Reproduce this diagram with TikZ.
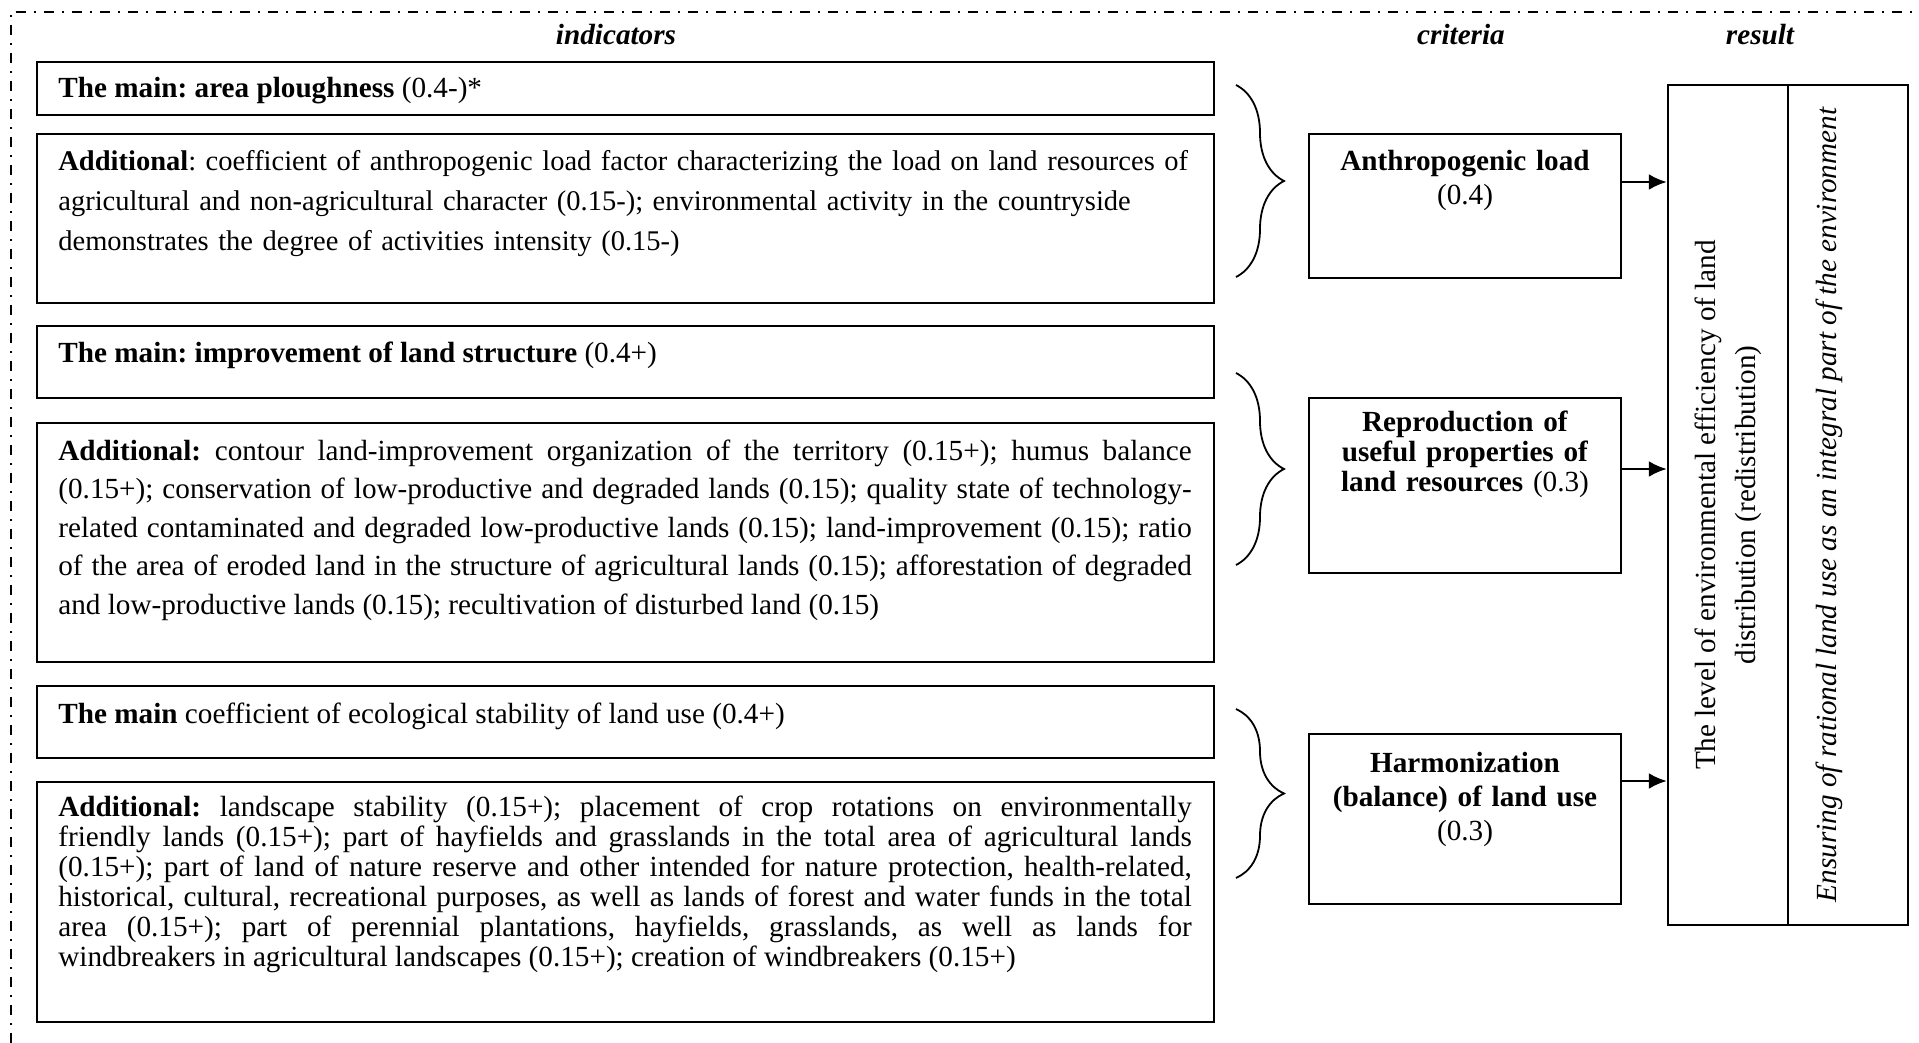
\documentclass[tikz,border=0pt]{standalone}
\usepackage{fontspec}
\setmainfont{Liberation Serif}
\frenchspacing
\usetikzlibrary{arrows.meta, positioning, calc, decorations.pathreplacing}

\begin{document}
\begin{tikzpicture}[
  x=0.5pt, y=-0.5pt,
  font=\fontsize{14.6}{17}\selectfont,
  >={Latex[length=9pt, width=8pt]},
  frame/.style={line width=0.9pt, dash pattern=on 5pt off 4pt on 1pt off 4pt},
  head/.style={font=\fontsize{14.6}{17}\selectfont\bfseries\itshape, inner sep=0pt},
  indbox/.style={draw, line width=1pt, anchor=north west, minimum width=588.5pt, inner sep=0pt},
  indtxt/.style={anchor=base west, inner sep=0pt, text width=566.7pt, align=justify},
  critbox/.style={draw, line width=1pt, anchor=north west, minimum width=156pt, inner sep=0pt},
  crittxt/.style={anchor=base, inner sep=0pt, text width=150pt, align=center},
  resbox/.style={draw, line width=1.2pt, rotate=90, minimum width=420pt, minimum height=60pt, inner sep=0pt},
  brc/.style={decorate, decoration={brace, amplitude=24pt}, line width=0.9pt},
  arr/.style={->, line width=1.3pt}
]
  \useasboundingbox (0,0) rectangle (1919,1043);
  \draw[frame] (11,1043) -- (11,12) -- (1919,12);

  \node[head] (hind) at (616,35) {indicators};
  \node[head] (hcrit) at (1461,35) {criteria};
  \node[head] (hres) at (1760,35) {result};

  % indicators
  \node[indbox, minimum height=26.5pt] (main1) at (36,61) {};
  \node[indbox, minimum height=84.5pt] (add1) at (36,133) {};
  \node[indbox, minimum height=36pt] (main2) at (36,325) {};
  \node[indbox, minimum height=119.5pt] (add2) at (36,422) {};
  \node[indbox, minimum height=36pt] (main3) at (36,685) {};
  \node[indbox, minimum height=120pt] (add3) at (36,781) {};

  \node[indtxt] (main1t) at ($(main1.north west)+(22,37)$)
    {\textbf{The main: area ploughness} (0.4-)*};
  \node[indtxt, text width=600pt, align=left, font=\fontsize{14.25}{20}\selectfont] (add1t)
    at ($(add1.north west)+(22,38)$)
    {\textbf{Additional}: coefficient of anthropogenic load factor characterizing the load on land resources of\\
     agricultural and non-agricultural character (0.15-); environmental activity in the countryside\\
     demonstrates the degree of activities intensity (0.15-)};
  \node[indtxt] (main2t) at ($(main2.north west)+(22,38)$)
    {\textbf{The main: improvement of land structure} (0.4+)};
  \node[indtxt, font=\fontsize{14.6}{19.3}\selectfont] (add2t) at ($(add2.north west)+(22,38)$)
    {\textbf{Additional:} contour land-improvement organization of the territory (0.15+); humus balance\linebreak
     (0.15+); conservation of low-productive and degraded lands (0.15); quality state of technology-\linebreak
     related contaminated and degraded low-productive lands (0.15); land-improvement (0.15); ratio\linebreak
     of the area of eroded land in the structure of agricultural lands (0.15); afforestation of degraded\linebreak
     and low-productive lands (0.15); recultivation of disturbed land (0.15)};
  \node[indtxt] (main3t) at ($(main3.north west)+(22,38)$)
    {\textbf{The main} coefficient of ecological stability of land use (0.4+)};
  \node[indtxt, font=\fontsize{14.6}{15}\selectfont] (add3t) at ($(add3.north west)+(22,35)$)
    {\textbf{Additional:} landscape stability (0.15+); placement of crop rotations on environmentally\linebreak
     friendly lands (0.15+); part of hayfields and grasslands in the total area of agricultural lands\linebreak
     (0.15+); part of land of nature reserve and other intended for nature protection, health-related,\linebreak
     historical, cultural, recreational purposes, as well as lands of forest and water funds in the total\linebreak
     area (0.15+); part of perennial plantations, hayfields, grasslands, as well as lands for\linebreak
     windbreakers in agricultural landscapes (0.15+); creation of windbreakers (0.15+)};

  % braces
  \draw[brc] (1236,85) -- (1236,277);
  \draw[brc] (1236,373) -- (1236,565);
  \draw[brc] (1236,709) -- (1236,878);

  % criteria
  \node[critbox, minimum height=72pt] (load) at (1308,133) {};
  \node[critbox, minimum height=87.5pt] (repro) at (1308,397) {};
  \node[critbox, minimum height=85pt] (harm) at (1308,733) {};

  \node[crittxt] (loadt) at ($(load.north)+(0,38)$)
    {\textbf{Anthropogenic load}\\(0.4)};
  \node[crittxt, font=\fontsize{14.6}{15}\selectfont] (reprot) at ($(repro.north)+(0,35)$)
    {\textbf{Reproduction of}\\\textbf{useful properties of}\\\textbf{land resources} (0.3)};
  \node[crittxt] (harmt) at ($(harm.north)+(0,39)$)
    {\textbf{Harmonization}\\\textbf{(balance) of land use}\\(0.3)};

  % result
  \node[resbox, align=center, font=\fontsize{14.6}{20}\selectfont] (lvl) at (1728,505)
    {The level of environmental efficiency of land\\distribution (redistribution)};
  \node[resbox] (ens) at (1848,505) {};
  \node[rotate=90, inner sep=0pt, font=\fontsize{14.6}{17}\selectfont\itshape] (enst) at (1829,505)
    {Ensuring of rational land use as an integral part of the environment};

  \coordinate (a1) at (0,182);
  \coordinate (a2) at (0,469);
  \coordinate (a3) at (0,781);
  \draw[arr] (load.east |- a1) -- (lvl.north |- a1);
  \draw[arr] (repro.east |- a2) -- (lvl.north |- a2);
  \draw[arr] (harm.east |- a3) -- (lvl.north |- a3);
\end{tikzpicture}
\end{document}
